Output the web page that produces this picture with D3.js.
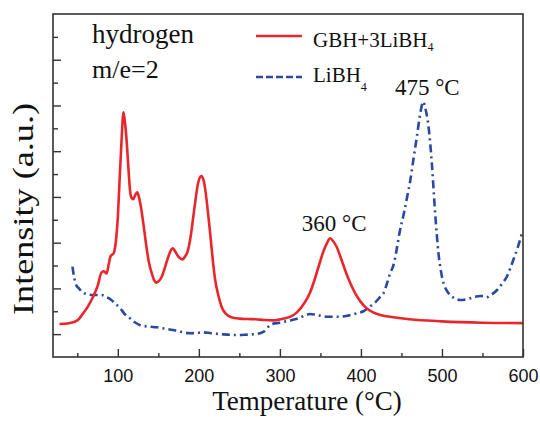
<!DOCTYPE html>
<html>
<head>
<meta charset="utf-8">
<script src="https://cdn.jsdelivr.net/npm/d3@7"></script>
<style>
  html, body { margin: 0; padding: 0; background: #fff; }
  svg { display: block; }
</style>
</head>
<body>
<div id="chart"></div>
<script>
const width = 540;
const height = 421;
const margin = { top: 14, right: 17, bottom: 64, left: 53 };

// GBH+3LiBH4, [temperature, intensity]
const gbhSeries = [
  [28,1.44],[40,1.48],[50,1.6],[57,1.9],[63,2.2],[69,2.6],[75,3.1],[80,3.7],[83,3.75],[86,3.65],
  [89,4.1],[91,4.4],[95,4.55],[98,5.2],[100,6.1],[102,7.6],[104.5,9.4],[107,10.7],[109,10.2],[111,9.4],
  [113,8.3],[115,7.3],[117,6.95],[119,6.9],[121,7.05],[124,7.2],[126,7.0],[129,6.45],[132,5.7],[135,4.9],
  [138,4.2],[142,3.65],[145,3.35],[147,3.25],[150,3.3],[154,3.5],[158,3.9],[162,4.35],[166,4.7],[168,4.75],
  [171,4.6],[175,4.38],[180,4.27],[183,4.4],[186,4.6],[190,5.3],[193,6.1],[196,6.9],[199,7.6],[203,7.91],
  [206,7.7],[208,7.3],[211,6.4],[214,5.4],[217,4.3],[220,3.4],[224,2.7],[228,2.2],[233,1.9],[240,1.74],
  [250,1.68],[260,1.66],[270,1.65],[280,1.62],[292,1.6],[305,1.68],[315,1.8],[321,1.95],[330,2.35],[337,2.8],
  [343,3.4],[349,4.1],[354,4.65],[358,4.97],[362,5.19],[366,5.05],[370,4.82],[375,4.35],[380,3.85],[386,3.3],
  [393,2.78],[400,2.4],[407,2.13],[415,1.95],[424,1.84],[440,1.74],[460,1.65],[500,1.56],[550,1.5],[600,1.48]
];

// LiBH4
const libhSeries = [
  [44,3.95],[46,3.5],[48,3.2],[52,3.0],[57,2.82],[63,2.74],[70,2.71],[80,2.71],[86,2.62],[92,2.49],
  [98,2.3],[103,2.13],[108,1.9],[115,1.69],[121,1.52],[127,1.4],[138,1.33],[148,1.3],[158,1.24],[168,1.18],
  [178,1.1],[189,1.04],[197,1.05],[205,1.08],[215,1.04],[230,0.99],[247,0.96],[260,0.98],[270,1.0],[280,1.11],
  [285,1.3],[290,1.44],[300,1.5],[310,1.58],[322,1.68],[330,1.8],[337,1.88],[345,1.84],[358,1.76],[374,1.76],
  [385,1.82],[395,1.91],[403,2.0],[411,2.2],[418,2.4],[424,2.64],[428,2.8],[432,3.2],[436,3.66],[440,4.0],
  [444,4.68],[448,5.5],[452.5,6.2],[457,7.0],[461,7.74],[465,8.7],[469,9.63],[473,10.6],[477,11.16],[480,10.8],
  [483,10.2],[487.5,8.47],[491.6,6.28],[495.7,4.53],[499,3.7],[502,3.22],[506,2.9],[510,2.71],[516,2.56],[522.5,2.49],
  [530,2.52],[535,2.57],[541,2.63],[547,2.67],[551,2.66],[555,2.61],[561,2.72],[568,2.93],[574,3.2],[580,3.51],
  [584,3.85],[588,4.24],[594,4.85],[599,5.45]
];

const xTickValues = [100, 200, 300, 400, 500, 600];
const xMinorTicks = [50, 150, 250, 350, 450, 550];
const yMajorTicks = [1, 3, 5, 7, 9, 11, 13];
const yMinorTicks = [2, 4, 6, 8, 10, 12, 14];

const peakLabels = [
  { text: "360 °C", t: 362, v: 5.19 },
  { text: "475 °C", t: 477, v: 11.16 }
];

const red = "#e8262b";
const blue = "#2a49a3";
const axisColor = "#333";

const svg = d3.select("#chart")
  .append("svg")
  .attr("width", width)
  .attr("height", height);

const x = d3.scaleLinear().domain([20, 600]).range([margin.left, width - margin.right]);
const y = d3.scaleLinear().domain([0, 15]).range([height - margin.bottom, margin.top]);

const line = d3.line()
  .x(d => x(d[0]))
  .y(d => y(d[1]))
  .curve(d3.curveMonotoneX);

// curves
svg.append("path")
  .datum(libhSeries)
  .attr("fill", "none")
  .attr("stroke", blue)
  .attr("stroke-width", 2.6)
  .attr("stroke-dasharray", "8,4,2,4")
  .attr("d", line);

svg.append("path")
  .datum(gbhSeries)
  .attr("fill", "none")
  .attr("stroke", red)
  .attr("stroke-width", 2.6)
  .attr("stroke-linejoin", "round")
  .attr("d", line);

// frame
svg.append("rect")
  .attr("x", margin.left)
  .attr("y", margin.top)
  .attr("width", width - margin.left - margin.right)
  .attr("height", height - margin.top - margin.bottom)
  .attr("fill", "none")
  .attr("stroke", axisColor)
  .attr("stroke-width", 1.6);

// x axis, ticks pointing inward
const xAxis = svg.append("g")
  .attr("transform", `translate(0,${height - margin.bottom})`)
  .call(d3.axisBottom(x).tickValues(xTickValues).tickSizeInner(-8).tickSizeOuter(0).tickPadding(12));
xAxis.select(".domain").remove();
xAxis.selectAll("line").attr("stroke", axisColor).attr("stroke-width", 1.4);
xAxis.selectAll("text")
  .attr("fill", "#111")
  .style("font-family", "'Liberation Sans', Arial, sans-serif")
  .style("font-size", "18px");

const xMinor = svg.append("g")
  .attr("transform", `translate(0,${height - margin.bottom})`)
  .call(d3.axisBottom(x).tickValues(xMinorTicks).tickSize(-4).tickFormat(""));
xMinor.select(".domain").remove();
xMinor.selectAll("line").attr("stroke", axisColor).attr("stroke-width", 1.4);

// y axis, no labels
const yAxis = svg.append("g")
  .attr("transform", `translate(${margin.left},0)`)
  .call(d3.axisLeft(y).tickValues(yMajorTicks).tickSize(-8).tickFormat(""));
yAxis.select(".domain").remove();
yAxis.selectAll("line").attr("stroke", axisColor).attr("stroke-width", 1.4);

const yMinor = svg.append("g")
  .attr("transform", `translate(${margin.left},0)`)
  .call(d3.axisLeft(y).tickValues(yMinorTicks).tickSize(-5).tickFormat(""));
yMinor.select(".domain").remove();
yMinor.selectAll("line").attr("stroke", axisColor).attr("stroke-width", 1.4);

const serif = "'Liberation Serif', 'Times New Roman', serif";

// axis titles
svg.append("text")
  .attr("x", (margin.left + width - margin.right) / 2 + 19)
  .attr("y", 410)
  .attr("text-anchor", "middle")
  .style("font-family", serif)
  .style("font-size", "27px")
  .attr("fill", "#111")
  .text("Temperature (°C)");

svg.append("text")
  .attr("transform", "translate(33,209) rotate(-90)")
  .attr("text-anchor", "middle")
  .attr("textLength", 212)
  .attr("lengthAdjust", "spacingAndGlyphs")
  .style("font-family", serif)
  .style("font-size", "30px")
  .attr("fill", "#111")
  .text("Intensity (a.u.)");

// annotation
svg.append("text")
  .attr("x", 92).attr("y", 43)
  .style("font-family", serif).style("font-size", "27px").attr("fill", "#111")
  .text("hydrogen");
svg.append("text")
  .attr("x", 92).attr("y", 78)
  .style("font-family", serif).style("font-size", "26px").attr("fill", "#111")
  .text("m/e=2");

// peak labels
svg.selectAll(".peak")
  .data(peakLabels)
  .enter()
  .append("text")
  .attr("class", "peak")
  .attr("x", d => x(d.t) + 4)
  .attr("y", d => y(d.v) - 7)
  .attr("text-anchor", "middle")
  .style("font-family", serif)
  .style("font-size", "23px")
  .attr("fill", "#111")
  .text(d => d.text);

// legend
const legend = svg.append("g");
legend.append("line")
  .attr("x1", 256).attr("x2", 302).attr("y1", 36).attr("y2", 36)
  .attr("stroke", red).attr("stroke-width", 2.6);
legend.append("line")
  .attr("x1", 256).attr("x2", 302).attr("y1", 77).attr("y2", 77)
  .attr("stroke", blue).attr("stroke-width", 2.6).attr("stroke-dasharray", "7,3");

const l1 = legend.append("text")
  .attr("x", 313).attr("y", 47)
  .style("font-family", serif).style("font-size", "21px").attr("fill", "#111");
l1.append("tspan").text("GBH+3LiBH");
l1.append("tspan").attr("dy", 4).style("font-size", "12px").text("4");

const l2 = legend.append("text")
  .attr("x", 313).attr("y", 82)
  .style("font-family", serif).style("font-size", "21px").attr("fill", "#111");
l2.append("tspan").text("LiBH");
l2.append("tspan").attr("dy", 9).style("font-size", "12px").text("4");
</script>
</body>
</html>
